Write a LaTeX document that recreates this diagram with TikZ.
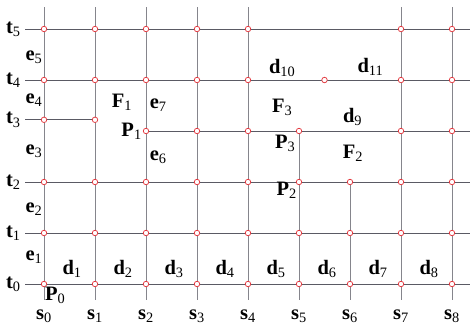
\documentclass[tikz,border=0pt]{standalone}
\usepackage{fontspec}
\setmainfont{Liberation Serif}
\usepackage{tikz}
\usetikzlibrary{positioning}
\definecolor{rowink}{HTML}{5A5A64}
\definecolor{colink}{HTML}{85858C}
\definecolor{knotred}{HTML}{E33A40}
\newcommand{\lb}[2]{\textbf{#1}\textsubscript{#2}}
\tikzset{
  rowline/.style={draw=rowink,line width=0.8pt},
  colline/.style={draw=colink,line width=0.8pt},
  knot/.style={circle,draw=knotred,fill=white,line width=0.75pt,
               inner sep=0pt,minimum size=5.5pt},
  tag/.style={inner sep=0pt,font=\fontsize{20.5}{23}\selectfont}
}

\begin{document}
\begin{tikzpicture}[x=51pt,y=51pt]
  \useasboundingbox (-0.863,-0.882) rectangle (8.353,5.569);

  % ends of the lines
  \foreach \r in {0,1,2,4,5}{
    \coordinate (rw\r) at (-0.37,\r);
    \coordinate (re\r) at (8.36,\r);
  }
  \coordinate (rw3) at (-0.37,3.22);
  \coordinate (re3) at (1,3.22);
  \coordinate (pw) at (2,3);
  \coordinate (pe) at (8.36,3);
  \foreach \c in {0,...,8} \coordinate (cb\c) at (\c,-0.31);
  \foreach \c in {0,1,2,3,4,7,8} \coordinate (ct\c) at (\c,5.43);
  \coordinate (ct5) at (5,3);
  \coordinate (ct6) at (6,2);

  \foreach \c in {0,...,8} \draw[colline] (cb\c) -- (ct\c);
  \foreach \r in {0,...,5} \draw[rowline] (rw\r) -- (re\r);
  \draw[rowline] (pw) -- (pe);

  % knots
  \foreach \c in {0,...,8}
    \foreach \r in {0,1,2} \node[knot] (k\c-\r) at (\c,\r) {};
  \foreach \c in {0,1,2,3,4,7,8}{
    \node[knot] (k\c-4) at (\c,4) {};
    \node[knot] (k\c-5) at (\c,5) {};
  }
  \node[knot] (kmid) at (5.5,4) {};
  \foreach \c in {0,1} \node[knot] (q\c) at (\c,3.22) {};
  \foreach \c in {2,3,4,5,7,8} \node[knot] (k\c-3) at (\c,3) {};

  % labels
  \foreach \r/\y in {0/0,1/1,2/2,3/3.22,4/4,5/5}
    \node[tag] (t\r) at (-0.6,\y) {\lb{t}{\r}};
  \foreach \c in {0,...,8} \node[tag] (s\c) at (\c,-0.63) {\lb{s}{\c}};
  \foreach \k/\y in {1/0.53,2/1.47,3/2.6,4/3.6,5/4.45}
    \node[tag,anchor=east] (e\k) at (-0.03,\y) {\lb{e}{\k}};
  \foreach \k in {1,...,8} \node[tag] (d\k) at (\k-0.45,0.3) {\lb{d}{\k}};
  \node[tag] (d9) at (6.05,3.27) {\lb{d}{9}};
  \node[tag] (d10) at (4.67,4.24) {\lb{d}{10}};
  \node[tag] (d11) at (6.4,4.25) {\lb{d}{11}};

  \node[tag] (F1) at (1.53,3.57) {\lb{F}{1}};
  \node[tag] (F3) at (4.67,3.47) {\lb{F}{3}};
  \node[tag] (F2) at (6.06,2.56) {\lb{F}{2}};
  \node[tag] (e7) at (2.24,3.51) {\lb{e}{7}};
  \node[tag] (e6) at (2.24,2.49) {\lb{e}{6}};

  \node[tag,left=1pt of k2-3] (P1) {\lb{P}{1}};
  \node[tag] (P3) at (4.73,2.76) {\lb{P}{3}};
  \node[tag] (P2) at (4.76,1.84) {\lb{P}{2}};
  \node[tag] (P0) at (0.22,-0.22) {\lb{P}{0}};
\end{tikzpicture}
\end{document}
